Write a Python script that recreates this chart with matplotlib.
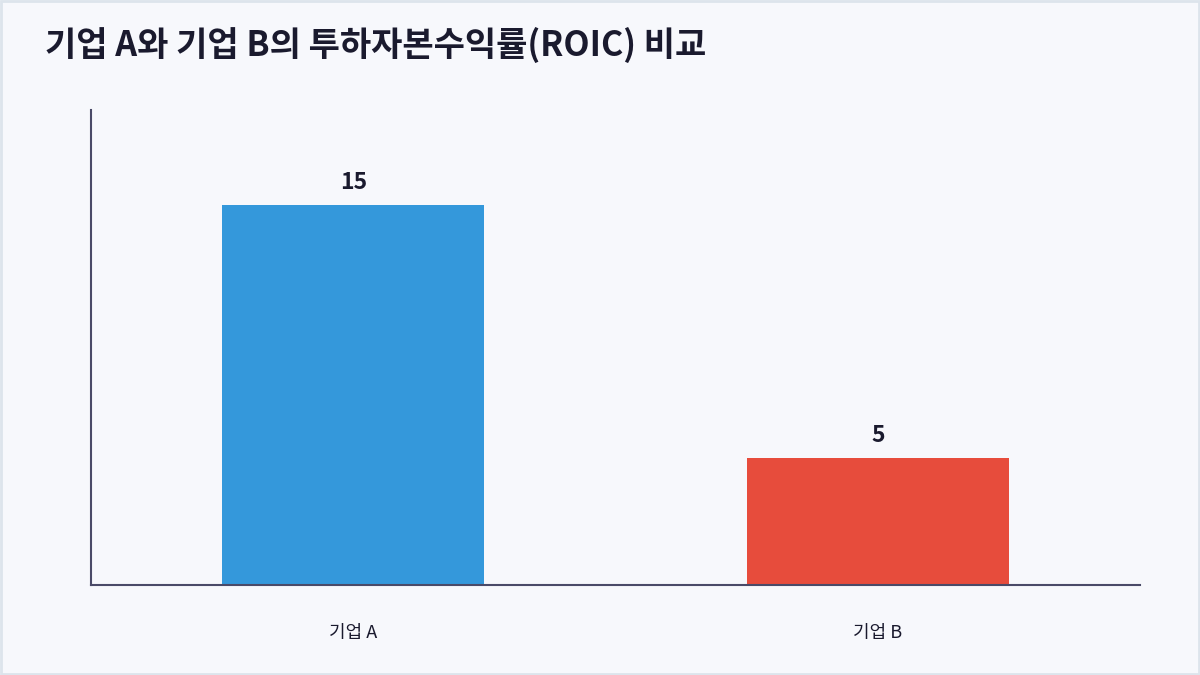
import matplotlib
matplotlib.use("Agg")
import matplotlib.pyplot as plt
from matplotlib.patches import Rectangle

# data
companies = ["기업 A", "기업 B"]
roic = [15, 5]
bar_colors = ["#3498db", "#e74c3c"]

plt.rcParams['font.family'] = ['Noto Sans CJK KR', 'DejaVu Sans']
text_color = "#1a1a2e"
bg = "#f7f8fc"

fig = plt.figure(figsize=(12, 6.75), dpi=100, facecolor=bg)
ax = fig.add_axes([91/1200, 1 - 585/675, (1140-91)/1200, (585-110)/675])
ax.set_facecolor(bg)

x = range(len(companies))
bars = ax.bar(x, roic, width=0.5, color=bar_colors)

ax.set_xlim(-0.5, 1.5)
ax.set_ylim(0, max(roic) * 1.25)

# value labels
for b, v in zip(bars, roic):
    ax.annotate(str(v), (b.get_x() + b.get_width() / 2, b.get_height()),
                xytext=(0, 8), textcoords="offset points",
                ha="center", va="bottom", fontsize=16.5, fontweight="bold",
                color=text_color)

ax.set_xticks(list(x))
ax.set_xticklabels(companies, fontsize=13, color=text_color)
ax.tick_params(axis="x", length=0, pad=28)
ax.set_yticks([])

for side in ["top", "right"]:
    ax.spines[side].set_visible(False)
for side in ["left", "bottom"]:
    ax.spines[side].set_color("#4a4a68")
    ax.spines[side].set_linewidth(1.5)

fig.text(45/1200, 1 - 45/675, "기업 A와 기업 B의 투하자본수익률(ROIC) 비교",
         fontsize=24.5, fontweight="bold", color=text_color, va="center", ha="left")

# thin frame around the whole picture
fig.patches.append(Rectangle((0.001, 0.002), 0.998, 0.996, transform=fig.transFigure,
                             fill=False, edgecolor="#dde4ec", linewidth=2))

fig.savefig("out.png", dpi=100, facecolor=bg)
